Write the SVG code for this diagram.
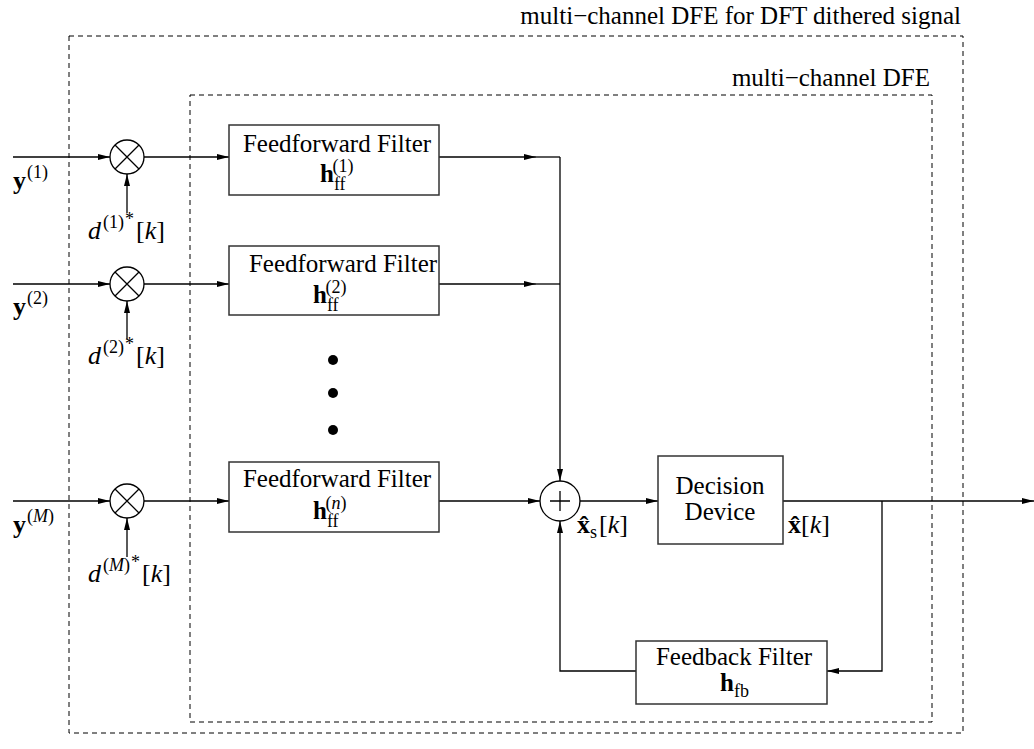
<svg xmlns="http://www.w3.org/2000/svg" width="1034" height="749" viewBox="0 0 1034 749">
  <style>
    .frame { fill: none; stroke: #000; stroke-width: 1; stroke-dasharray: 5 4; }
    .box { fill: #fff; stroke: #333; stroke-width: 1.5; }
    .wire { fill: none; stroke: #000; stroke-width: 1.3; }
    .op { fill: #fff; stroke: #000; stroke-width: 1.3; }
    text { font-family: "Liberation Serif", "Times New Roman", serif; font-size: 25px; fill: #000; }
    .math { font-size: 26px; }
    .mid { text-anchor: middle; }
    .end { text-anchor: end; }
    .b { font-weight: bold; }
    .i { font-style: italic; }
    .sm { font-size: 18px; }
  </style>
  <defs>
    <marker id="arr" viewBox="0 0 12 6" refX="12" refY="3" markerWidth="12" markerHeight="6" markerUnits="userSpaceOnUse" orient="auto">
      <path d="M0,0 L12,3 L0,6 Z" fill="#000"/>
    </marker>
  </defs>

  <!-- enclosing frames -->
  <g id="outer-frame">
    <rect class="frame" x="69" y="36" width="894" height="697"/>
    <text class="end" x="961" y="24">multi−channel DFE for DFT dithered signal</text>
  </g>
  <g id="inner-frame">
    <rect class="frame" x="190" y="95" width="742" height="627"/>
    <text class="end" x="930" y="86">multi−channel DFE</text>
  </g>

  <!-- connectors -->
  <g id="connectors">
    <!-- channel 1 -->
    <line class="wire" x1="13" y1="157" x2="110" y2="157" marker-end="url(#arr)"/>
    <line class="wire" x1="127" y1="213" x2="127" y2="174" marker-end="url(#arr)"/>
    <line class="wire" x1="144" y1="157" x2="229" y2="157" marker-end="url(#arr)"/>
    <line class="wire" x1="439" y1="157" x2="536" y2="157" marker-end="url(#arr)"/>
    <line class="wire" x1="536" y1="157" x2="560" y2="157"/>
    <!-- channel 2 -->
    <line class="wire" x1="13" y1="284" x2="110" y2="284" marker-end="url(#arr)"/>
    <line class="wire" x1="127" y1="339" x2="127" y2="301" marker-end="url(#arr)"/>
    <line class="wire" x1="144" y1="284" x2="229" y2="284" marker-end="url(#arr)"/>
    <line class="wire" x1="439" y1="284" x2="536" y2="284" marker-end="url(#arr)"/>
    <line class="wire" x1="536" y1="284" x2="560" y2="284"/>
    <!-- channel M -->
    <line class="wire" x1="13" y1="501" x2="110" y2="501" marker-end="url(#arr)"/>
    <line class="wire" x1="127" y1="557" x2="127" y2="518" marker-end="url(#arr)"/>
    <line class="wire" x1="144" y1="501" x2="229" y2="501" marker-end="url(#arr)"/>
    <line class="wire" x1="439" y1="501" x2="540" y2="501" marker-end="url(#arr)"/>
    <!-- summing bus -->
    <line class="wire" x1="560" y1="157" x2="560" y2="481" marker-end="url(#arr)"/>
    <!-- sum to decision device -->
    <line class="wire" x1="579" y1="501" x2="658" y2="501" marker-end="url(#arr)"/>
    <!-- output -->
    <line class="wire" x1="783" y1="501" x2="1034" y2="501" marker-end="url(#arr)"/>
    <!-- feedback loop -->
    <polyline class="wire" points="882,501 882,671 827,671" marker-end="url(#arr)"/>
    <polyline class="wire" points="636,671 560,671 560,521" marker-end="url(#arr)"/>
  </g>

  <!-- mixers -->
  <g id="mixer-1">
    <circle class="op" cx="127" cy="157" r="17"/>
    <path class="wire" d="M115,145 L139,169 M139,145 L115,169"/>
  </g>
  <g id="mixer-2">
    <circle class="op" cx="127" cy="284" r="17"/>
    <path class="wire" d="M115,272 L139,296 M139,272 L115,296"/>
  </g>
  <g id="mixer-M">
    <circle class="op" cx="127" cy="501" r="17"/>
    <path class="wire" d="M115,489 L139,513 M139,489 L115,513"/>
  </g>

  <!-- input labels -->
  <g id="labels-inputs">
    <text class="math" x="13" y="189"><tspan class="b">y</tspan><tspan class="sm" dx="1" dy="-11">(1)</tspan></text>
    <text class="math" x="88" y="239"><tspan class="i">d</tspan><tspan class="sm" dx="2" dy="-11">(1)</tspan><tspan class="sm" dx="1" dy="-3">*</tspan><tspan dx="2" dy="14">[</tspan><tspan class="i">k</tspan>]</text>
    <text class="math" x="13" y="315"><tspan class="b">y</tspan><tspan class="sm" dx="1" dy="-11">(2)</tspan></text>
    <text class="math" x="88" y="364"><tspan class="i">d</tspan><tspan class="sm" dx="2" dy="-11">(2)</tspan><tspan class="sm" dx="1" dy="-3">*</tspan><tspan dx="2" dy="14">[</tspan><tspan class="i">k</tspan>]</text>
    <text class="math" x="13" y="533"><tspan class="b">y</tspan><tspan class="sm" dx="1" dy="-11">(</tspan><tspan class="sm i">M</tspan><tspan class="sm">)</tspan></text>
    <text class="math" x="88" y="582"><tspan class="i">d</tspan><tspan class="sm" dx="2" dy="-11">(</tspan><tspan class="sm i">M</tspan><tspan class="sm">)</tspan><tspan class="sm" dx="1" dy="-3">*</tspan><tspan dx="2" dy="14">[</tspan><tspan class="i">k</tspan>]</text>
  </g>

  <!-- feedforward filters -->
  <g id="ff-filter-1">
    <rect class="box" x="229" y="125" width="210" height="70"/>
    <text class="mid" x="337" y="152">Feedforward Filter</text>
    <text x="320" y="182"><tspan class="b">h</tspan><tspan class="sm" dy="8">ff</tspan><tspan class="sm" dx="-13" dy="-18">(1)</tspan></text>
  </g>
  <g id="ff-filter-2">
    <rect class="box" x="229" y="246" width="210" height="69"/>
    <text class="mid" x="343" y="272">Feedforward Filter</text>
    <text x="313" y="303"><tspan class="b">h</tspan><tspan class="sm" dy="8">ff</tspan><tspan class="sm" dx="-13" dy="-18">(2)</tspan></text>
  </g>
  <g id="ellipsis">
    <circle cx="333" cy="360" r="5" fill="#000"/>
    <circle cx="333" cy="393" r="5" fill="#000"/>
    <circle cx="333" cy="430" r="5" fill="#000"/>
  </g>
  <g id="ff-filter-n">
    <rect class="box" x="229" y="462" width="210" height="70"/>
    <text class="mid" x="337" y="487">Feedforward Filter</text>
    <text x="313" y="519"><tspan class="b">h</tspan><tspan class="sm" dy="8">ff</tspan><tspan class="sm" dx="-13" dy="-18">(</tspan><tspan class="sm i">n</tspan><tspan class="sm">)</tspan></text>
  </g>

  <!-- summer -->
  <g id="summer">
    <circle class="op" cx="560" cy="501" r="20"/>
    <path class="wire" d="M550,501 L570,501 M560,491 L560,511"/>
    <text class="math" x="577" y="533"><tspan class="b">x̂</tspan><tspan class="sm" dy="5">s</tspan><tspan dx="2" dy="-5">[</tspan><tspan class="i">k</tspan>]</text>
  </g>

  <!-- decision device -->
  <g id="decision-device">
    <rect class="box" x="658" y="456" width="125" height="88"/>
    <text class="mid" x="720" y="494">Decision</text>
    <text class="mid" x="720" y="520">Device</text>
    <text class="math" x="788" y="533"><tspan class="b">x̂</tspan>[<tspan class="i">k</tspan>]</text>
  </g>

  <!-- feedback filter -->
  <g id="feedback-filter">
    <rect class="box" x="636" y="641" width="191" height="63"/>
    <text class="mid" x="734" y="665">Feedback Filter</text>
    <text x="720" y="691"><tspan class="b">h</tspan><tspan class="sm" dy="6">fb</tspan></text>
  </g>
</svg>
